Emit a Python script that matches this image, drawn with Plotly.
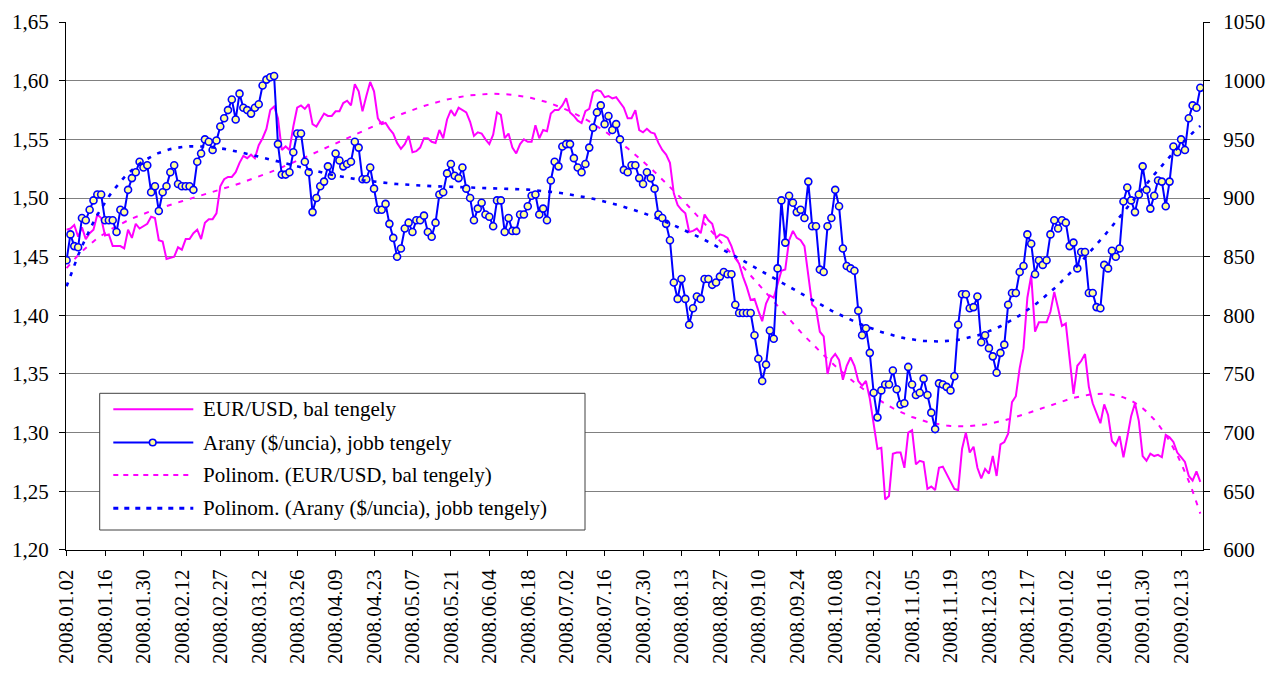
import numpy as np
import plotly.graph_objects as go

# ---------------- data ----------------
DATE_LABELS = [
    "2008.01.02", "2008.01.16", "2008.01.30", "2008.02.12", "2008.02.27",
    "2008.03.12", "2008.03.26", "2008.04.09", "2008.04.23", "2008.05.07",
    "2008.05.21", "2008.06.04", "2008.06.18", "2008.07.02", "2008.07.16",
    "2008.07.30", "2008.08.13", "2008.08.27", "2008.09.10", "2008.09.24",
    "2008.10.08", "2008.10.22", "2008.11.05", "2008.11.19", "2008.12.03",
    "2008.12.17", "2009.01.02", "2009.01.16", "2009.01.30", "2009.02.13",
]
LABEL_STEP = 10  # one date label every 10 trading days

EUR_USD = [
    1.473, 1.474, 1.477, 1.467, 1.475, 1.465, 1.470, 1.473, 1.486, 1.483,
    1.468, 1.469, 1.459, 1.459, 1.459, 1.457, 1.473, 1.466, 1.478, 1.474,
    1.476, 1.478, 1.484, 1.483, 1.464, 1.463, 1.448, 1.449, 1.450, 1.458,
    1.456, 1.465, 1.465, 1.470, 1.473, 1.465, 1.479, 1.482, 1.482, 1.487,
    1.510, 1.516, 1.518, 1.518, 1.522, 1.530, 1.536, 1.534, 1.537, 1.534,
    1.545, 1.551, 1.559, 1.575, 1.578, 1.568, 1.541, 1.544, 1.541, 1.561,
    1.577, 1.579, 1.576, 1.580, 1.563, 1.561, 1.566, 1.572, 1.570, 1.570,
    1.574, 1.574, 1.581, 1.583, 1.579, 1.597, 1.591, 1.574, 1.587, 1.599,
    1.591, 1.568, 1.563, 1.564, 1.559, 1.555, 1.547, 1.542, 1.546, 1.553,
    1.539, 1.540, 1.543, 1.551, 1.551, 1.548, 1.547, 1.558, 1.551, 1.567,
    1.575, 1.570, 1.577, 1.575, 1.573, 1.565, 1.553, 1.556, 1.555, 1.550,
    1.546, 1.554, 1.573, 1.571, 1.551, 1.555, 1.543, 1.538, 1.546, 1.550,
    1.548, 1.548, 1.562, 1.551, 1.558, 1.557, 1.572, 1.575, 1.575, 1.579,
    1.585, 1.573, 1.570, 1.566, 1.564, 1.574, 1.576, 1.590, 1.592, 1.591,
    1.586, 1.587, 1.585, 1.586, 1.582, 1.577, 1.568, 1.568, 1.575, 1.558,
    1.556, 1.559, 1.556, 1.555, 1.547, 1.541, 1.537, 1.530, 1.504, 1.494,
    1.490, 1.487, 1.471, 1.472, 1.474, 1.470, 1.486, 1.481, 1.478, 1.466,
    1.469, 1.468, 1.466, 1.459, 1.449, 1.444, 1.433, 1.424, 1.413, 1.414,
    1.404, 1.395, 1.410, 1.417, 1.415, 1.426, 1.438, 1.439, 1.464, 1.472,
    1.466, 1.464, 1.459, 1.434, 1.409, 1.406, 1.386, 1.382, 1.350, 1.363,
    1.367, 1.362, 1.345, 1.357, 1.364, 1.357, 1.344, 1.340, 1.344, 1.329,
    1.309, 1.286, 1.287, 1.243, 1.246, 1.282, 1.283, 1.283, 1.270, 1.300,
    1.302, 1.273, 1.276, 1.275, 1.252, 1.254, 1.251, 1.270, 1.271, 1.265,
    1.258, 1.252, 1.251, 1.286, 1.300, 1.283, 1.288, 1.270, 1.261, 1.269,
    1.265, 1.280, 1.263, 1.290, 1.292, 1.299, 1.326, 1.331, 1.355, 1.372,
    1.415, 1.434, 1.386, 1.394, 1.394, 1.394, 1.403, 1.420, 1.406, 1.391,
    1.393, 1.360, 1.333, 1.357, 1.361, 1.367, 1.339, 1.325, 1.317, 1.308,
    1.324, 1.315, 1.293, 1.289, 1.297, 1.279, 1.296, 1.314, 1.325, 1.310,
    1.280, 1.276, 1.282, 1.280, 1.281, 1.279, 1.298, 1.296, 1.292, 1.283,
    1.279, 1.275, 1.263, 1.259, 1.267, 1.258,
]

GOLD = [
    847, 869, 859, 858, 883, 881, 890, 898, 903, 903,
    881, 881, 881, 871, 890, 888, 907, 917, 922, 931,
    926, 928, 905, 910, 889, 905, 910, 922, 928, 912,
    910, 910, 910, 907, 931, 938, 950, 948, 941, 949,
    961, 968, 975, 984, 967, 989, 977, 975, 972, 977,
    980, 996, 1001, 1003, 1004, 946, 920, 920, 922, 939,
    955, 955, 931, 922, 888, 900, 910, 914, 927, 919,
    938, 932, 927, 929, 931, 948, 943, 916, 916, 926,
    908, 890, 890, 895, 878, 866, 850, 857, 874, 879,
    871, 881, 881, 885, 871, 867, 879, 903, 905, 921,
    929, 919, 917, 926, 908, 900, 881, 891, 896, 886,
    884, 876, 898, 898, 871, 883, 872, 872, 886, 886,
    893, 902, 903, 886, 891, 881, 915, 931, 927, 944,
    946, 946, 934, 926, 922, 929, 943, 960, 973, 979,
    963, 970, 958, 963, 950, 924, 922, 928, 928, 917,
    912, 922, 917, 908, 886, 883, 878, 864, 828, 814,
    831, 814, 792, 806, 816, 814, 831, 831, 826, 828,
    833, 837, 835, 835, 809, 802, 802, 802, 802, 783,
    763, 744, 758, 787, 780, 840, 898, 862, 902, 896,
    888, 890, 883, 914, 876, 876, 839, 837, 876, 883,
    907, 893, 857, 842, 840, 838, 804, 783, 789, 768,
    734, 713, 736, 741, 741, 753, 737, 724, 725, 756,
    741, 732, 734, 746, 732, 717, 703, 742, 741, 739,
    736, 748, 792, 818, 818, 806, 807, 816, 777, 783,
    772, 765, 751, 768, 775, 809, 819, 819, 837, 842,
    869, 861, 835, 847, 843, 847, 869, 881, 874, 881,
    879, 859, 862, 840, 854, 854, 819, 819, 807, 806,
    843, 840, 855, 850, 857, 897, 909, 898, 888, 903,
    927, 907, 891, 902, 915, 914, 893, 914, 944, 939,
    950, 941, 968, 979, 977, 994,
]

SERIES_NAMES = [
    "EUR/USD, bal tengely",
    "Arany ($/uncia), jobb tengely",
    "Polinom. (EUR/USD, bal tengely)",
    "Polinom. (Arany ($/uncia), jobb tengely)",
]

# ---------------- derived ----------------
idx = np.arange(len(EUR_USD))
eur_trend = np.polynomial.Polynomial.fit(idx + 1, EUR_USD, 6)(idx + 1)
gold_trend = np.polynomial.Polynomial.fit(idx + 1, GOLD, 6)(idx + 1)
tickvals = [i * LABEL_STEP for i in range(len(DATE_LABELS))]

MAGENTA = "#FF00FF"
BLUE = "#0000FF"
FONT = "Liberation Serif"
FS = 21

fig = go.Figure()
fig.add_trace(go.Scatter(x=idx, y=EUR_USD, mode="lines", name=SERIES_NAMES[0],
                         line=dict(color=MAGENTA, width=2), yaxis="y"))
fig.add_trace(go.Scatter(x=idx, y=eur_trend, mode="lines", name=SERIES_NAMES[2],
                         line=dict(color=MAGENTA, width=2, dash="5px,7px"), yaxis="y"))
fig.add_trace(go.Scatter(x=idx, y=GOLD, mode="lines+markers", name=SERIES_NAMES[1],
                         line=dict(color=BLUE, width=2),
                         marker=dict(symbol="circle", size=7, color="#FFFF99",
                                     line=dict(color=BLUE, width=1.6)),
                         yaxis="y2"))
fig.add_trace(go.Scatter(x=idx, y=gold_trend, mode="lines", name=SERIES_NAMES[3],
                         line=dict(color=BLUE, width=2.6, dash="4px,7px"), yaxis="y2"))

# ---------------- layout ----------------
W, H = 1269, 675
ML, MR, MT, MB = 66, 66, 22, 125
PW, PH = W - ML - MR, H - MT - MB


def px(xp):
    return (xp - ML) / PW


def py(yp):
    return (H - MB - yp) / PH


axis_font = dict(family=FONT, size=FS, color="black")

fig.update_layout(
    width=W, height=H,
    margin=dict(l=ML, r=MR, t=MT, b=MB, pad=0, autoexpand=False),
    paper_bgcolor="white", plot_bgcolor="white",
    separators=", ",
    showlegend=False,
    font=dict(family=FONT, size=FS, color="black"),
    xaxis=dict(range=[-0.15, 295.7], tickmode="array", tickvals=tickvals,
               ticktext=DATE_LABELS, tickangle=-90, ticks="outside", ticklen=5,
               tickcolor="black", showline=True, linecolor="black", linewidth=1,
               showgrid=False, zeroline=False, tickfont=axis_font,
               ticklabelstandoff=5, automargin=False),
    yaxis=dict(range=[1.1999, 1.6501], tick0=1.2, dtick=0.05, tickformat=".2f",
               ticks="outside", ticklen=6, tickcolor="black", showline=True,
               linecolor="black", linewidth=1, showgrid=True, gridcolor="#808080",
               gridwidth=1, zeroline=False, tickfont=axis_font, ticklabelstandoff=6,
               automargin=False),
    yaxis2=dict(range=[599.9, 1050.1], tick0=600, dtick=50, overlaying="y",
                side="right", ticks="outside", ticklen=6, tickcolor="black",
                showline=True, linecolor="black", linewidth=1, showgrid=False,
                zeroline=False, tickfont=axis_font, ticklabelstandoff=9,
                automargin=False),
)

# ---------------- custom legend ----------------
shapes = []
annotations = []
shapes.append(dict(type="rect", xref="paper", yref="paper",
                   x0=px(99.7), x1=px(585), y0=py(530), y1=py(393.3),
                   line=dict(color="#404040", width=1), fillcolor="white",
                   layer="above"))
rows_y = [409.3, 442.5, 475.0, 508.3]
styles = [
    dict(color=MAGENTA, width=2),
    dict(color=BLUE, width=2),
    dict(color=MAGENTA, width=2, dash="5px,5px"),
    dict(color=BLUE, width=3, dash="5px,6px"),
]
for name, ry, st in zip(SERIES_NAMES, rows_y, styles):
    shapes.append(dict(type="line", xref="paper", yref="paper",
                       x0=px(113.3), x1=px(193.3), y0=py(ry), y1=py(ry),
                       line=st, layer="above"))
    annotations.append(dict(xref="paper", yref="paper", x=px(201), y=py(ry),
                            text=name, showarrow=False, xanchor="left",
                            yanchor="middle", font=dict(family=FONT, size=FS,
                                                        color="black")))
r = 3.3
shapes.append(dict(type="circle", xref="paper", yref="paper",
                   x0=px(152.7 - r), x1=px(152.7 + r),
                   y0=py(rows_y[1] + r), y1=py(rows_y[1] - r),
                   line=dict(color=BLUE, width=1.6), fillcolor="#FFFF99",
                   layer="above"))
fig.update_layout(shapes=shapes, annotations=annotations)

fig.write_html("out.html",
               config={"displayModeBar": False},
               post_script="document.body.style.margin='0';document.body.style.overflow='hidden';")
